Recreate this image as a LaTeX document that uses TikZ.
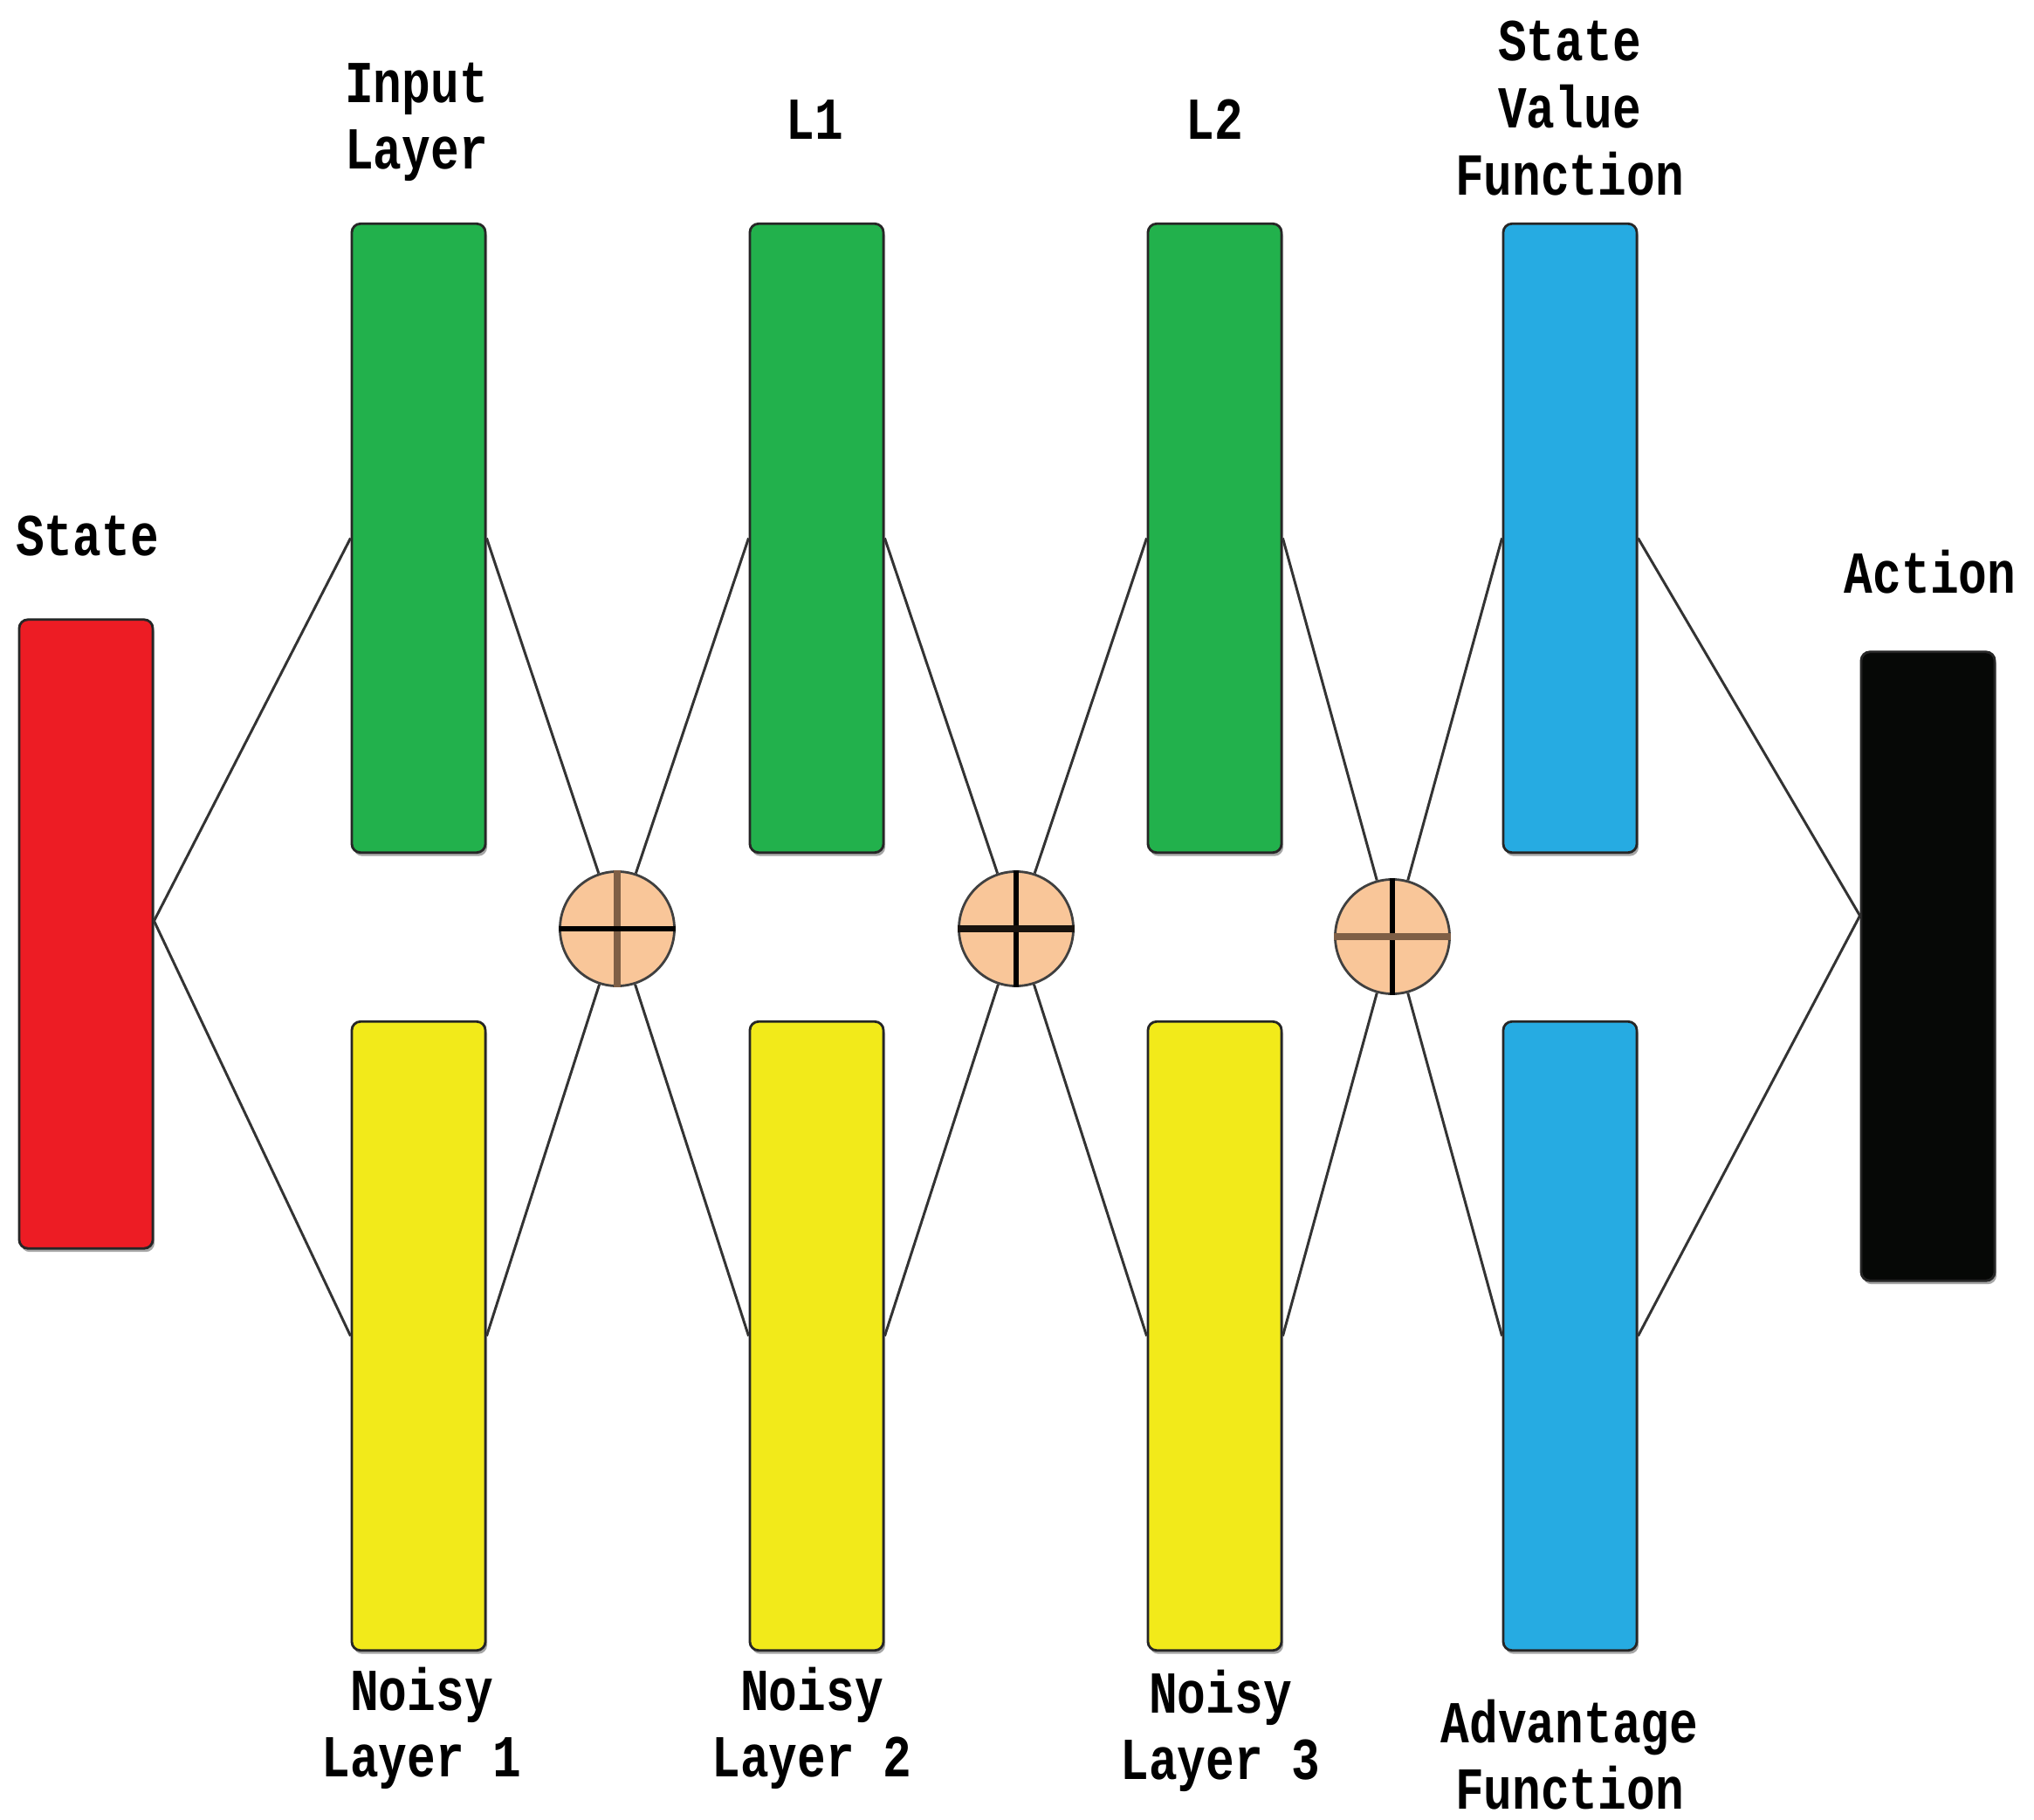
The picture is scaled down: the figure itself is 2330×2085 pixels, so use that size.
\documentclass[tikz,border=0pt]{standalone}
\usepackage{fontspec}
\usepackage{graphicx}
\usetikzlibrary{calc,shadows}
\newfontfamily\lblfont{Liberation Mono}
\newcommand\lb[1]{\scalebox{1}[1.25]{#1}}
\definecolor{cRed}{HTML}{ED1C24}
\definecolor{cGreen}{HTML}{22B14C}
\definecolor{cYellow}{HTML}{F2EA1A}
\definecolor{cBlue}{HTML}{26ABE2}
\definecolor{cBlack}{HTML}{060806}
\definecolor{cPeach}{HTML}{F9C699}
\definecolor{cBrown}{HTML}{7F5F46}
\begin{document}
\begin{tikzpicture}[x=0.01cm,y=-0.01cm,
  layerbox/.style={draw=black!85, line width=0.8pt, rounded corners=0.1cm,
    minimum width=1.53cm, minimum height=7.2cm, inner sep=0pt,
    drop shadow={shadow xshift=0.02cm, shadow yshift=-0.04cm, fill=black!35, opacity=1}},
  sumnode/.style={circle, draw=black!75, line width=0.8pt, fill=cPeach,
    minimum size=1.31cm, inner sep=0pt},
  conn/.style={draw=black!80, line width=0.85pt},
  lbl/.style={font=\lblfont\bfseries\fontsize{15.5}{21.8}\selectfont, align=center, inner sep=0pt}
]
\useasboundingbox (0,0) rectangle (2330,2085);
% boxes
\node[layerbox, fill=cRed] (state) at (98.5,1070) {};
\node[layerbox, fill=cGreen] (g1) at (479.5,616.5) {};
\node[layerbox, fill=cYellow] (y1) at (479.5,1530.5) {};
\node[layerbox, fill=cGreen] (g2) at (935.5,616.5) {};
\node[layerbox, fill=cYellow] (y2) at (935.5,1530.5) {};
\node[layerbox, fill=cGreen] (g3) at (1391.5,616.5) {};
\node[layerbox, fill=cYellow] (y3) at (1391.5,1530.5) {};
\node[layerbox, fill=cBlue] (sv) at (1798.5,616.5) {};
\node[layerbox, fill=cBlue] (adv) at (1798.5,1530.5) {};
\node[layerbox, fill=cBlack] (act) at (2208.5,1107) {};
% sum nodes
\node[sumnode] (c1) at (707,1064) {};
\node[sumnode] (c2) at (1164,1064) {};
\node[sumnode] (c3) at (1595,1073) {};
\coordinate (sout) at ($(state.east)+(0,-15)$);
\coordinate (ain) at ($(act.west)+(0,-58)$);
% connectors
\draw[conn] (sout) -- (g1.west);
\draw[conn] (sout) -- (y1.west);
\draw[conn] (g1.east) -- (c1);
\draw[conn] (y1.east) -- (c1);
\draw[conn] (c1) -- (g2.west);
\draw[conn] (c1) -- (y2.west);
\draw[conn] (g2.east) -- (c2);
\draw[conn] (y2.east) -- (c2);
\draw[conn] (c2) -- (g3.west);
\draw[conn] (c2) -- (y3.west);
\draw[conn] (g3.east) -- (c3);
\draw[conn] (y3.east) -- (c3);
\draw[conn] (c3) -- (sv.west);
\draw[conn] (c3) -- (adv.west);
\draw[conn] (sv.east) -- (ain);
\draw[conn] (adv.east) -- (ain);
% crosses
\draw[cBrown, line width=2pt] (c1.north) -- (c1.south);
\draw[black, line width=1.5pt] (c1.west) -- (c1.east);
\draw[black, line width=1.5pt] (c2.north) -- (c2.south);
\draw[black!80!cBrown, line width=2pt] (c2.west) -- (c2.east);
\draw[black, line width=1.5pt] (c3.north) -- (c3.south);
\draw[cBrown, line width=2pt] (c3.west) -- (c3.east);
% labels
\node[lbl] (lstate) at (100,614) {\lb{State}};
\node[lbl] (lin) at (477,140) {\lb{Input}\\\lb{Layer}};
\node[lbl] (ll1) at (933,137) {\lb{L1}};
\node[lbl] (ll2) at (1391,137) {\lb{L2}};
\node[lbl] (lsv) at (1798,124) {\lb{State}\\\lb{Value}\\\lb{Function}};
\node[lbl] (lact) at (2211,655) {\lb{Action}};
\node[lbl] (ln1) at (483,1980) {\lb{Noisy}\\\lb{Layer 1}};
\node[lbl] (ln2) at (930,1980) {\lb{Noisy}\\\lb{Layer 2}};
\node[lbl] (ln3) at (1398,1983) {\lb{Noisy}\\\lb{Layer 3}};
\node[lbl] (ladv) at (1798,2010) {\lb{Advantage}\\\lb{Function}};
\end{tikzpicture}
\end{document}
